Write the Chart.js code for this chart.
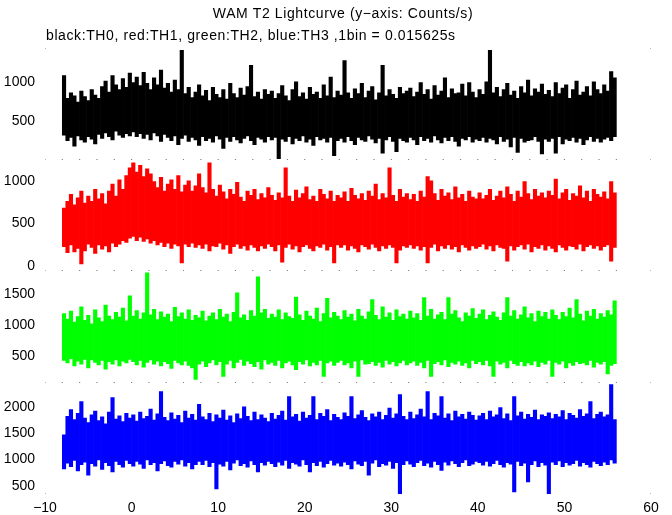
<!DOCTYPE html>
<html>
<head>
<meta charset="utf-8">
<script src="https://cdn.jsdelivr.net/npm/chart.js@4"></script>
<style>
  html, body { margin: 0; padding: 0; background: #fff; }
</style>
</head>
<body>
<canvas id="lc" width="672" height="515"></canvas>
<script>
// WAM T2 lightcurve: four thresholds in stacked panels on one time axis.
// Each series is kept as per-bin max / min (0.4 s bins)
// and drawn as floating bars, so the noisy band comes out solid like the original.

const titleText = 'WAM T2 Lightcurve (y\u2212axis: Counts/s)';
const subtitleText = 'black:TH0, red:TH1, green:TH2, blue:TH3 ,1bin = 0.015625s';

const binStart = -8;     // s, first bin edge
const binWidth = 0.4;    // s

// TH0 (black)
const th0Hi = [
  1080, 790, 860, 820, 740, 880, 810, 760, 900, 830, 790, 940, 1010, 870, 1080, 960, 900, 1040, 930, 1110,
  990, 1060, 950, 1120, 980, 900, 1050, 960, 1150, 920, 980, 870, 1020, 900, 1400, 850, 930, 800, 870, 960,
  820, 890, 760, 930, 840, 800, 900, 780, 980, 850, 800, 920, 830, 940, 1210, 810, 870, 780, 900, 840,
  880, 790, 850, 950, 820, 760, 900, 1000, 810, 860, 780, 930, 840, 870, 790, 960, 820, 1060, 800, 880,
  830, 1270, 860, 790, 910, 850, 980, 800, 880, 940, 770, 860, 1210, 820, 900, 840, 790, 930, 850, 880,
  920, 810, 870, 990, 840, 900, 780, 950, 830, 880, 1050, 800, 910, 850, 860, 970, 820, 990, 870, 800,
  900, 840, 1000, 1400, 860, 930, 810, 900, 980, 830, 880, 790, 940, 860, 1020, 820, 910, 870, 970, 840,
  890, 810, 990, 850, 920, 960, 790, 900, 1010, 830, 870, 940, 820, 1000, 900, 850, 960, 880, 1130, 1050
];
const th0Lo = [
  320, 250, 290, 180, 310, 260, 230, 300, 270, 210, 330, 280, 350, 300, 260, 370, 320, 290, 340, 310,
  360, 300, 340, 280, 330, 260, 350, 310, 240, 330, 290, 250, 310, 200, 280, 320, 240, 290, 260, 190,
  300, 250, 280, 230, 310, 270, 150, 290, 240, 300, 260, 220, 280, 310, 250, 200, 290, 270, 230, 300,
  260, 290, 20, 270, 240, 300, 210, 280, 250, 310, 230, 270, 190, 300, 260, 280, 230, 290, 60, 250,
  280, 230, 300, 250, 200, 290, 260, 240, 310, 270, 220, 280, 90, 260, 300, 240, 110, 280, 250, 230,
  290, 260, 200, 300, 250, 280, 230, 310, 260, 220, 290, 250, 300, 240, 180, 280, 260, 300, 230, 270,
  250, 290, 230, 280, 260, 210, 300, 240, 270, 170, 290, 100, 280, 230, 250, 260, 300, 240, 80, 270,
  240, 280, 90, 300, 210, 270, 250, 290, 230, 280, 200, 260, 300, 240, 280, 230, 270, 290, 250, 300
];

// TH1 (red)
const th1Hi = [
  680, 760, 840, 720, 800, 880, 740, 820, 760, 900, 790, 850, 730, 880, 960, 820, 1010, 900, 1060, 1150,
  1210, 1100, 1180, 1050, 1140, 1080, 990, 920, 1040, 880, 960, 1010, 900, 1060, 870, 950, 1000, 880, 940, 1080,
  920, 860, 1210, 900, 820, 950, 870, 790, 900, 840, 980, 810, 760, 880, 830, 900, 780, 850, 800, 920,
  830, 770, 860, 800, 1150, 820, 760, 890, 800, 850, 930, 780, 820, 760, 900, 840, 790, 880, 760, 830,
  800, 870, 760, 910, 830, 790, 850, 770, 880, 820, 960, 780, 850, 800, 1150, 830, 760, 900, 810, 850,
  780, 840, 760, 880, 810, 1050, 1000, 850, 770, 900, 820, 860, 780, 930, 800, 840, 760, 880, 810, 790,
  860, 790, 830, 900, 770, 820, 880, 800, 930, 840, 760, 880, 810, 990, 850, 780, 900, 820, 860, 800,
  880, 830, 1020, 790, 860, 900, 770, 850, 820, 940, 800, 880, 760, 900, 840, 810, 870, 790, 990, 860
];
const th1Lo = [
  230, 160, 250, 170, 210, 30, 180, 260, 220, 150, 250, 200, 240, 170, 270, 230, 260, 300, 280, 330,
  350, 300, 340, 290, 320, 270, 300, 250, 280, 230, 270, 210, 260, 240, 40, 260, 230, 270, 220, 250,
  210, 260, 180, 240, 230, 270, 200, 250, 150, 230, 260, 210, 240, 190, 250, 220, 180, 240, 210, 260,
  230, 180, 250, 50, 220, 260, 200, 240, 170, 230, 250, 210, 180, 240, 220, 260, 190, 230, 40, 250,
  220, 250, 190, 240, 210, 170, 250, 230, 200, 260, 220, 180, 240, 210, 250, 220, 40, 190, 240, 220,
  250, 210, 240, 190, 230, 40, 220, 260, 180, 240, 210, 250, 200, 230, 170, 250, 220, 190, 240, 210,
  230, 260, 200, 240, 180, 250, 220, 210, 60, 240, 190, 230, 250, 200, 260, 170, 230, 210, 250, 190,
  240, 210, 170, 250, 220, 190, 240, 230, 200, 260, 180, 230, 250, 210, 240, 190, 230, 250, 60, 220
];

// TH2 (green)
const th2Hi = [
  1190, 1100, 1230, 1050, 1140, 1300, 1080, 1160, 1020, 1250, 1120, 1060, 1330, 1150, 1090, 1210, 1130, 1280, 1070, 1480,
  1150, 1240, 1100, 1200, 1855, 1170, 1260, 1090, 1220, 1130, 1180, 1060, 1290, 1140, 1200, 1100, 1250, 1080, 1160, 1120,
  1230, 1070, 1150, 1200, 1090, 1260, 1130, 1180, 1060, 1210, 1528, 1120, 1170, 1080, 1240, 1150, 1790, 1200, 1260, 1110,
  1180, 1130, 1250, 1090, 1200, 1140, 1110, 1460, 1170, 1080, 1230, 1150, 1100, 1280, 1060, 1190, 1440, 1120, 1210, 1150,
  1090, 1240, 1130, 1180, 1070, 1260, 1150, 1100, 1220, 1420, 1160, 1090, 1300, 1130, 1200, 1080, 1250, 1140, 1180, 1100,
  1230, 1120, 1190, 1080, 1450, 1150, 1260, 1100, 1170, 1210, 1090, 1450, 1180, 1240, 1120, 1060, 1200, 1150, 1270, 1110,
  1180, 1250, 1090, 1160, 1220, 1130, 1080, 1200, 1450, 1150, 1240, 1100, 1170, 1300, 1120, 1190, 1060, 1230, 1140, 1210,
  1100, 1250, 1160, 1090, 1210, 1140, 1280, 1120, 1420, 1180, 1070, 1230, 1150, 1260, 1100, 1190, 1130, 1240, 1170, 1400
];
const th2Lo = [
  420, 380, 450, 330, 410, 360, 440, 300, 430, 390, 350, 420, 280, 400, 360, 430, 330, 410, 380, 440,
  400, 350, 420, 310, 390, 430, 360, 410, 330, 400, 370, 290, 420, 380, 350, 410, 340, 300, 110, 360,
  410, 320, 380, 430, 350, 400, 160, 360, 420, 300, 390, 440, 340, 410, 370, 320, 400, 280, 430, 360,
  390, 340, 420, 300, 380, 410, 350, 270, 400, 360, 430, 330, 390, 350, 420, 160, 380, 410, 340, 390,
  420, 350, 380, 300, 410, 160, 430, 360, 370, 400, 340, 390, 310, 420, 360, 400, 330, 380, 420, 350,
  380, 410, 340, 390, 300, 420, 160, 370, 400, 350, 430, 320, 390, 360, 410, 340, 380, 300, 420, 370,
  400, 350, 420, 330, 160, 410, 360, 390, 300, 420, 370, 340, 400, 330, 380, 350, 410, 320, 390, 360,
  420, 160, 390, 360, 410, 300, 380, 340, 400, 370, 380, 350, 420, 310, 390, 360, 400, 200, 340, 370
];

// TH3 (blue)
const th3Hi = [
  1470, 1820, 1950, 1760, 1880, 2100, 1790, 1700, 1850, 1920, 1740, 1810, 1680, 1900, 2180, 1770, 1830, 1720, 1880, 1790,
  1850, 1730, 1900, 1780, 1820, 1960, 1750, 1870, 2294, 1800, 1740, 1890, 1770, 1840, 1700, 1920, 1790, 1860, 1750, 2050,
  1810, 1760, 1880, 1720, 1850, 1790, 1940, 1750, 1830, 1700, 1870, 1780, 2000, 1820, 1740, 1900, 1760, 1850, 1790, 1720,
  1880, 1770, 1840, 1920, 1750, 2200, 1810, 1860, 1730, 1900, 1790, 1840, 2200, 1760, 1880, 1820, 1950, 1740, 1860, 1800,
  1760, 1890, 1820, 2200, 1780, 1850, 1930, 1800, 1740, 1870, 1810, 1900, 1760, 1840, 1980, 1790, 1870, 2236, 1820, 1760,
  1900, 1780, 1850, 1960, 1810, 2294, 1760, 1880, 1830, 2200, 1790, 1870, 1740, 1920, 1810, 1860, 1770, 1900, 1840, 1750,
  1830, 1880, 1760, 1920, 1810, 1850, 1990, 1780, 1870, 1740, 2200, 1830, 1900, 1770, 1860, 1800, 1940, 1760, 1850, 1820,
  1890, 1780, 1860, 1810, 1930, 1760, 1880, 1840, 1790, 1950, 1820, 1870, 2100, 1780, 1860, 1900, 1810, 1850, 2428, 1760
];
const th3Lo = [
  820, 930, 860, 980, 780, 900, 950, 700, 920, 870, 990, 810, 940, 880, 760, 960, 900, 850, 980, 920,
  870, 960, 910, 830, 990, 900, 940, 780, 920, 970, 880, 850, 960, 910, 990, 870, 940, 820, 900, 960,
  900, 980, 860, 940, 437, 910, 870, 960, 800, 930, 990, 880, 920, 850, 970, 900, 760, 940, 890, 960,
  920, 860, 950, 890, 980, 830, 940, 910, 870, 990, 900, 760, 940, 880, 960, 850, 920, 980, 890, 930,
  870, 950, 900, 820, 970, 910, 880, 960, 700, 930, 990, 860, 920, 890, 960, 830, 940, 330, 900, 970,
  910, 860, 940, 980, 880, 930, 850, 960, 900, 790, 950, 890, 970, 920, 860, 940, 990, 880, 910, 960,
  940, 890, 960, 870, 920, 980, 900, 850, 940, 910, 380, 960, 880, 930, 571, 900, 970, 860, 940, 890,
  330, 950, 900, 970, 860, 940, 890, 920, 980, 870, 940, 900, 850, 960, 920, 880, 950, 900, 990, 930
];

// y ranges and tick values of the four panels (counts/s), top to bottom
const th0Range = [10, 1430];
const th1Range = [-54, 1248];
const th2Range = [60, 1887];
const th3Range = [341, 2466];
const th0Ticks = [500, 1000];
const th1Ticks = [0, 500, 1000];
const th2Ticks = [500, 1000, 1500];
const th3Ticks = [500, 1000, 1500, 2000];
const timeTicks = [-10, 0, 10, 20, 30, 40, 50, 60];

// dotted separators between panels, and the frame corner dots
const dotTimes = [-8, -6, -4, -2, 0, 2, 4, 6, 8, 10, 12, 14, 16, 18, 20, 22, 24,
  26, 28, 30, 32, 34, 36, 38, 40, 42, 44, 46, 48, 50, 52, 54, 56];
const cornerTimes = [-10, 60];

const FONT = { family: '"Liberation Sans", Arial, sans-serif', size: 14 };

function bins(hi, lo) {
  return hi.map((h, i) => ({ x: binStart + binWidth * (i + 0.5), y: [lo[i], h] }));
}

function band(hi, lo, color, axis) {
  return {
    type: 'bar',
    data: bins(hi, lo),
    yAxisID: axis,
    backgroundColor: color,
    borderWidth: 0,
    barPercentage: 1,
    categoryPercentage: 1,
    grouped: false,
  };
}

function dots(times, y, axis) {
  return {
    type: 'scatter',
    data: times.map(t => ({ x: t, y })),
    yAxisID: axis,
    pointStyle: 'rect',
    pointRadius: 0.8,
    pointBorderWidth: 0,
    pointBackgroundColor: '#000',
    showLine: false,
  };
}

function fixedTicks(values) {
  return axis => { axis.ticks = values.map(v => ({ value: v })); };
}

function panelAxis(range, ticks, weight) {
  return {
    type: 'linear',
    position: 'left',
    stack: 'wam',
    stackWeight: 1,
    weight,
    min: range[0],
    max: range[1],
    afterBuildTicks: fixedTicks(ticks),
    afterFit: axis => { axis.width = 41; },
    ticks: { autoSkip: false, color: '#000', font: FONT, padding: 10, callback: v => String(v) },
    grid: { display: false, drawTicks: false },
    border: { display: false },
  };
}

const headerText = {
  id: 'headerText',
  afterDraw(chart) {
    const ctx = chart.ctx;
    ctx.save();
    ctx.fillStyle = '#000';
    ctx.font = '14px "Liberation Sans", Arial, sans-serif';
    ctx.letterSpacing = '0.6px';
    ctx.textBaseline = 'alphabetic';
    ctx.textAlign = 'center';
    ctx.fillText(titleText, 343, 18);
    ctx.textAlign = 'left';
    ctx.fillText(subtitleText, 46, 40);
    ctx.restore();
  },
};

new Chart(document.getElementById('lc'), {
  data: {
    datasets: [
      band(th0Hi, th0Lo, '#000000', 'y0'),
      band(th1Hi, th1Lo, '#ff0000', 'y1'),
      band(th2Hi, th2Lo, '#00ff00', 'y2'),
      band(th3Hi, th3Lo, '#0000ff', 'y3'),
      dots(dotTimes.concat(cornerTimes), th0Range[0], 'y0'),
      dots(dotTimes.concat(cornerTimes), th1Range[0], 'y1'),
      dots(dotTimes.concat(cornerTimes), th2Range[0], 'y2'),
      dots(cornerTimes, th0Range[1], 'y0'),
      dots(cornerTimes, th3Range[0], 'y3'),
    ],
  },
  options: {
    responsive: false,
    animation: false,
    layout: { padding: { left: 4, right: 21, top: 48, bottom: 0 } },
    plugins: { legend: { display: false }, tooltip: { enabled: false } },
    scales: {
      x: {
        type: 'linear',
        offset: false,
        min: -10,
        max: 60,
        afterBuildTicks: fixedTicks(timeTicks),
        afterFit: axis => { axis.height = 21; },
        ticks: {
          autoSkip: false,
          color: '#000',
          font: FONT,
          padding: 6,
          callback: v => String(v).replace('-', '\u2212'),
        },
        grid: { display: false, drawTicks: false },
        border: { display: false },
      },
      y3: panelAxis(th3Range, th3Ticks, 1),
      y2: panelAxis(th2Range, th2Ticks, 2),
      y1: panelAxis(th1Range, th1Ticks, 3),
      y0: panelAxis(th0Range, th0Ticks, 4),
    },
  },
  plugins: [headerText],
});
</script>
</body>
</html>
